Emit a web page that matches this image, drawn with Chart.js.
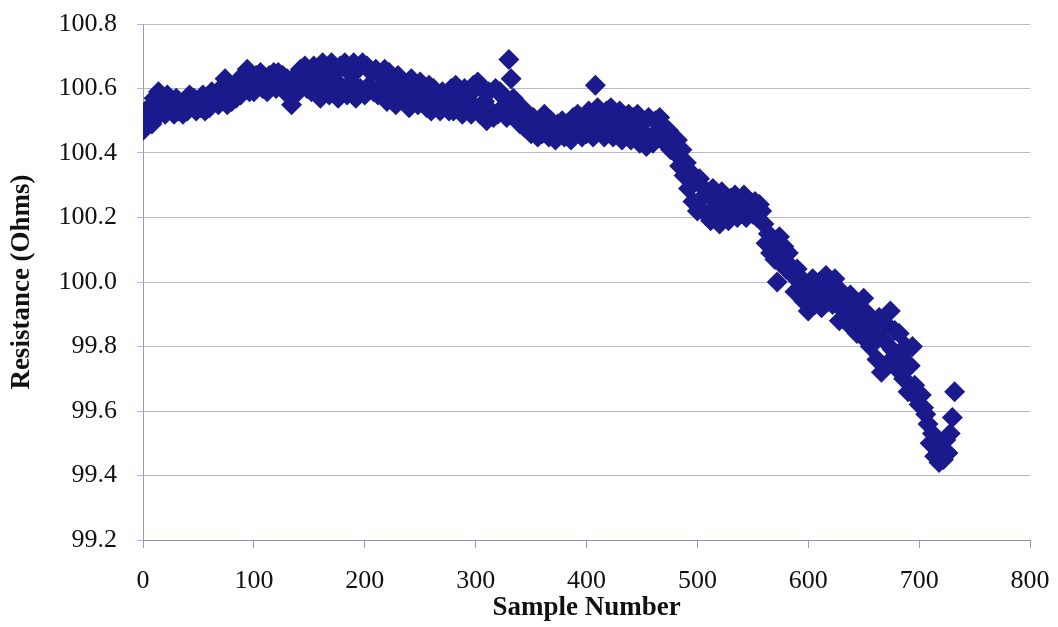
<!DOCTYPE html>
<html>
<head>
<meta charset="utf-8">
<script src="https://cdn.jsdelivr.net/npm/chart.js@4.4.1/dist/chart.umd.min.js"></script>
<style>
  html, body { margin: 0; padding: 0; background: #ffffff; }
  #wrap { width: 1058px; height: 627px; }
</style>
</head>
<body>
<div id="wrap"><canvas id="c" width="1058" height="627"></canvas></div>
<script>
// Sample numbers are taken every 2 samples (0, 2, 4, ...)
const sampleStep = 2;

// Resistance readings (Ohms), one per sample step
const resistance = [
  100.47, 100.53, 100.50, 100.54, 100.49, 100.57, 100.51, 100.59, 100.53, 100.56,
  100.52, 100.58, 100.54, 100.56, 100.52, 100.57, 100.53, 100.55, 100.52, 100.56,
  100.53, 100.58, 100.55, 100.57, 100.53, 100.56, 100.54, 100.58, 100.53, 100.57,
  100.54, 100.59, 100.56, 100.58, 100.55, 100.60, 100.57, 100.63, 100.55, 100.61,
  100.56, 100.61, 100.57, 100.60, 100.58, 100.64, 100.60, 100.66, 100.59, 100.63,
  100.59, 100.64, 100.61, 100.65, 100.60, 100.63, 100.59, 100.64, 100.61, 100.65,
  100.60, 100.65, 100.62, 100.64, 100.59, 100.63, 100.61, 100.55, 100.60, 100.64,
  100.59, 100.66, 100.62, 100.67, 100.60, 100.64, 100.59, 100.67, 100.62, 100.65,
  100.57, 100.68, 100.61, 100.66, 100.58, 100.68, 100.63, 100.65, 100.57, 100.67,
  100.60, 100.68, 100.58, 100.65, 100.62, 100.68, 100.57, 100.66, 100.60, 100.68,
  100.58, 100.67, 100.61, 100.65, 100.59, 100.66, 100.58, 100.64, 100.60, 100.66,
  100.56, 100.65, 100.59, 100.62, 100.55, 100.64, 100.58, 100.60, 100.56, 100.61,
  100.54, 100.63, 100.57, 100.61, 100.55, 100.62, 100.58, 100.59, 100.54, 100.61,
  100.53, 100.60, 100.56, 100.58, 100.53, 100.59, 100.55, 100.57, 100.53, 100.60,
  100.53, 100.61, 100.55, 100.59, 100.52, 100.60, 100.56, 100.58, 100.52, 100.61,
  100.54, 100.62, 100.52, 100.60, 100.56, 100.50, 100.59, 100.53, 100.51, 100.60,
  100.52, 100.59, 100.54, 100.57, 100.51, 100.69, 100.63, 100.57, 100.52, 100.55,
  100.49, 100.54, 100.48, 100.52, 100.50, 100.46, 100.51, 100.47, 100.45, 100.50,
  100.46, 100.52, 100.48, 100.45, 100.50, 100.47, 100.44, 100.49, 100.46, 100.50,
  100.45, 100.49, 100.47, 100.44, 100.51, 100.46, 100.52, 100.48, 100.45, 100.51,
  100.46, 100.53, 100.49, 100.45, 100.61, 100.54, 100.47, 100.51, 100.45, 100.53,
  100.48, 100.54, 100.45, 100.51, 100.47, 100.53, 100.44, 100.50, 100.46, 100.52,
  100.44, 100.51, 100.47, 100.52, 100.43, 100.49, 100.46, 100.42, 100.51, 100.45,
  100.43, 100.50, 100.46, 100.51, 100.44, 100.48, 100.43, 100.47, 100.41, 100.44,
  100.40, 100.44, 100.36, 100.41, 100.33, 100.37, 100.29, 100.34, 100.25, 100.31,
  100.22, 100.32, 100.26, 100.29, 100.21, 100.27, 100.19, 100.29, 100.23, 100.26,
  100.18, 100.28, 100.22, 100.25, 100.19, 100.26, 100.21, 100.27, 100.20, 100.24,
  100.22, 100.27, 100.20, 100.25, 100.23, 100.21, 100.25, 100.20, 100.24, 100.22,
  100.18, 100.12, 100.15, 100.09, 100.13, 100.07, 100.00, 100.14, 100.06, 100.11,
  100.04, 100.09, 100.05, 100.02,  99.97, 100.04,  99.98, 100.01,  99.94,  99.99,
   99.91,  99.98, 100.01,  99.93,  99.96, 100.00,  99.92,  99.97, 100.02,  99.94,
   99.99,  99.93, 100.01,  99.95,  99.88,  99.97,  99.91,  99.94,  99.87,  99.96,
   99.89,  99.94,  99.84,  99.92,  99.86,  99.95,  99.82,  99.90,  99.80,  99.88,
   99.84,  99.76,  99.89,  99.72,  99.82,  99.87,  99.75,  99.91,  99.79,  99.85,
   99.73,  99.84,  99.77,  99.70,  99.80,  99.66,  99.74,  99.80,  99.68,  99.64,
   99.62,  99.65,  99.61,  99.59,  99.56,  99.50,  99.53,  99.46,  99.51,  99.44,
   99.48,  99.45,  99.51,  99.47,  99.53,  99.58,  99.66
];

const xTicks = [0, 100, 200, 300, 400, 500, 600, 700, 800];
const yTicks = [99.2, 99.4, 99.6, 99.8, 100.0, 100.2, 100.4, 100.6, 100.8];

const points = resistance.map((v, i) => ({ x: i * sampleStep, y: v }));

const gridColor = 'rgba(160,160,200,0.75)';
const axisColor = 'rgba(140,140,195,0.9)';
const tickFont = { family: "'Liberation Serif', 'Times New Roman', serif", size: 26 };
const titleFont = { family: "'Liberation Serif', 'Times New Roman', serif", size: 27, weight: 'bold' };

function noEdgePadding(s) {
  s.paddingTop = 0; s.paddingBottom = 0; s.paddingLeft = 0; s.paddingRight = 0;
}

new Chart(document.getElementById('c'), {
  type: 'scatter',
  data: {
    datasets: [{
      label: 'Resistance',
      data: points,
      pointStyle: 'rectRot',
      pointRadius: 10.5,
      pointHoverRadius: 10.5,
      backgroundColor: '#1a1a8c',
      borderColor: '#1a1a8c',
      borderWidth: 0
    }]
  },
  options: {
    responsive: false,
    animation: false,
    layout: { padding: { left: 0, top: 24, right: 28, bottom: 0 } },
    plugins: { legend: { display: false }, tooltip: { enabled: false } },
    scales: {
      x: {
        type: 'linear',
        min: xTicks[0],
        max: xTicks[xTicks.length - 1],
        afterBuildTicks: (s) => { s.ticks = xTicks.map(v => ({ value: v })); },
        afterFit: (s) => { s.height = 87; noEdgePadding(s); },
        grid: { drawOnChartArea: false, drawTicks: true, tickLength: 8, color: axisColor },
        border: { display: true, color: axisColor, width: 1 },
        ticks: { font: tickFont, color: '#111', padding: 18, maxRotation: 0 },
        title: { display: true, text: 'Sample Number', font: titleFont, color: '#111', padding: { top: 0, bottom: 3 } }
      },
      y: {
        type: 'linear',
        min: yTicks[0],
        max: yTicks[yTicks.length - 1],
        afterBuildTicks: (s) => { s.ticks = yTicks.map(v => ({ value: v })); },
        afterFit: (s) => { s.width = 143; noEdgePadding(s); },
        grid: { drawOnChartArea: true, drawTicks: true, tickLength: 6, color: gridColor },
        border: { display: true, color: axisColor, width: 1 },
        ticks: { font: tickFont, color: '#111', padding: 20, callback: (v) => Number(v).toFixed(1) },
        title: { display: true, text: 'Resistance (Ohms)', font: titleFont, color: '#111', padding: { top: 6, bottom: 0 } }
      }
    }
  }
});
</script>
</body>
</html>
